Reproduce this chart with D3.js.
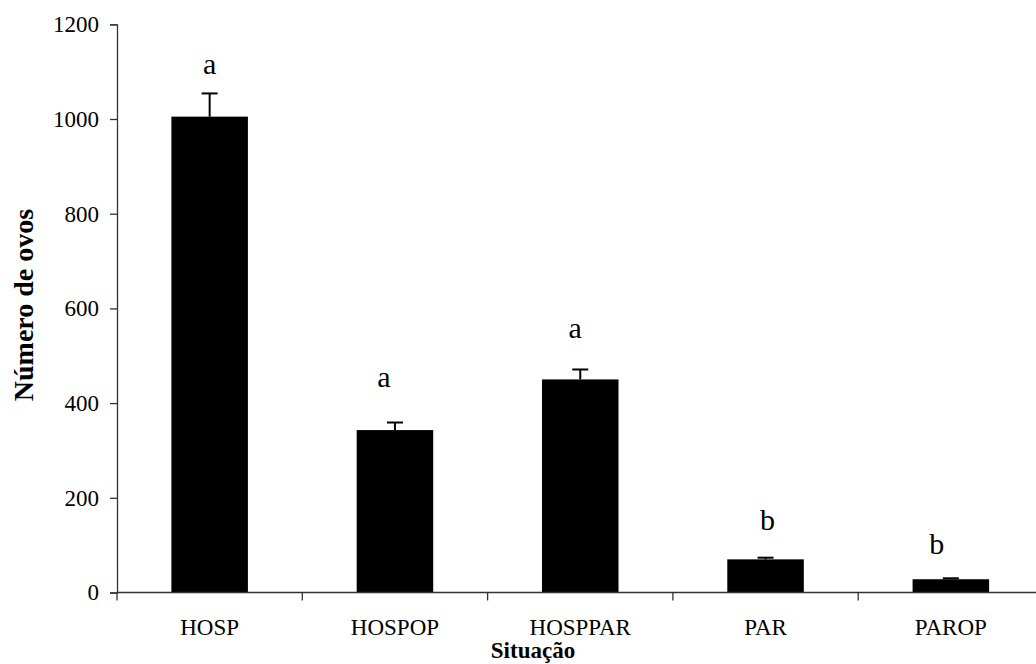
<!DOCTYPE html>
<html>
<head>
<meta charset="utf-8">
<script src="https://cdn.jsdelivr.net/npm/d3@7"></script>
<style>
  html, body { margin: 0; padding: 0; background: #fff; }
  svg { display: block; }
  text { font-family: "Liberation Serif", "Times New Roman", serif; fill: #000; }
</style>
</head>
<body>
<div id="chart"></div>
<script>
// ---- data ----
const categories = ["HOSP", "HOSPOP", "HOSPPAR", "PAR", "PAROP"];
const means      = [1005, 343, 450, 70, 28];
const errors     = [49, 16, 21, 3.5, 2];
const letters    = ["a", "a", "a", "b", "b"];
const letterAt   = [1095, 434, 537, 132, 81];   // value-axis level of each significance letter
const yTicks     = [0, 200, 400, 600, 800, 1000, 1200];
const xTitle = "Situação";
const yTitle = "Número de ovos";

// ---- layout ----
const W = 1036, H = 664;
const mLeft = 117, mRight = 1043.5, mBottom = 592.5, mTop = 24.3;
const letterDx = [0, -11, -5, 2, -14];

const svg = d3.select("#chart").append("svg")
  .attr("width", W).attr("height", H);

const x = d3.scaleBand().domain(categories).range([mLeft, mRight]).padding(0);
const y = d3.scaleLinear().domain([0, 1200]).range([mBottom, mTop]);

const bw = x.bandwidth();
const barW = bw * 0.413;

// bars
svg.append("g").selectAll("rect")
  .data(categories)
  .join("rect")
  .attr("x", (d) => x(d) + (bw - barW) / 2)
  .attr("width", barW)
  .attr("y", (d, i) => y(means[i]))
  .attr("height", (d, i) => y(0) - y(means[i]))
  .attr("fill", "#000");

// error bars (upper only)
const eg = svg.append("g").attr("stroke", "#000").attr("stroke-width", 2);
categories.forEach((c, i) => {
  const cx = x(c) + bw / 2;
  eg.append("line")
    .attr("x1", cx).attr("x2", cx)
    .attr("y1", y(means[i])).attr("y2", y(means[i] + errors[i]));
  eg.append("line")
    .attr("x1", cx - 8).attr("x2", cx + 8)
    .attr("y1", y(means[i] + errors[i])).attr("y2", y(means[i] + errors[i]));
});

// significance letters
svg.append("g").selectAll("text")
  .data(categories)
  .join("text")
  .attr("x", (d, i) => x(d) + bw / 2 + letterDx[i])
  .attr("y", (d, i) => y(letterAt[i]))
  .attr("text-anchor", "middle")
  .style("font-size", "30px")
  .text((d, i) => letters[i]);

// y axis
const yAxis = svg.append("g")
  .attr("transform", `translate(${mLeft},0)`)
  .call(d3.axisLeft(y).tickValues(yTicks).tickSize(7).tickPadding(11).tickFormat(d3.format("d")));
yAxis.select(".domain").attr("stroke", "#333").attr("stroke-width", 1.3);
yAxis.selectAll(".tick line").attr("stroke", "#333").attr("stroke-width", 1.3);
yAxis.selectAll(".tick text")
  .style("font-size", "23px")
  .style("font-family", "'Liberation Serif', 'Times New Roman', serif")
  .attr("fill", "#000");

// x axis (ticks at category boundaries)
const xg = svg.append("g");
xg.append("line")
  .attr("x1", mLeft).attr("x2", mRight)
  .attr("y1", mBottom).attr("y2", mBottom)
  .attr("stroke", "#333").attr("stroke-width", 1.3);
const bounds = categories.map((c) => x(c)).concat([x(categories[categories.length - 1]) + bw]);
xg.selectAll("line.tk")
  .data(bounds)
  .join("line")
  .attr("class", "tk")
  .attr("x1", (d) => d).attr("x2", (d) => d)
  .attr("y1", mBottom).attr("y2", mBottom + 8)
  .attr("stroke", "#333").attr("stroke-width", 1.3);
xg.selectAll("text")
  .data(categories)
  .join("text")
  .attr("x", (d) => x(d) + bw / 2)
  .attr("y", mBottom + 42)
  .attr("text-anchor", "middle")
  .style("font-size", "23px")
  .text((d) => d);

// axis titles
svg.append("text")
  .attr("x", 533)
  .attr("y", 658)
  .attr("text-anchor", "middle")
  .style("font-size", "23px")
  .style("font-weight", "bold")
  .text(xTitle);

svg.append("text")
  .attr("transform", "translate(33,305) rotate(-90)")
  .attr("text-anchor", "middle")
  .style("font-size", "28px")
  .style("font-weight", "bold")
  .text(yTitle);
</script>
</body>
</html>
